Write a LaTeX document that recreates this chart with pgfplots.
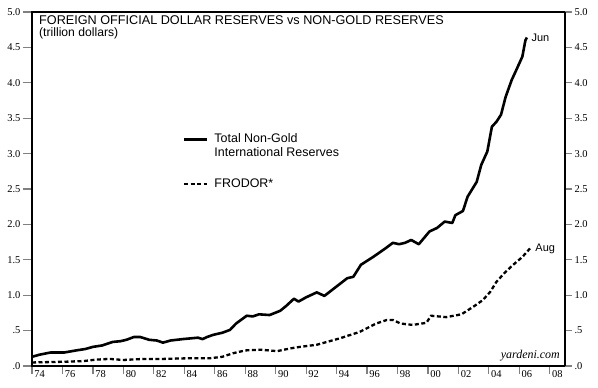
\documentclass[border=0pt]{standalone}
\usepackage{pgfplots}
\pgfplotsset{compat=1.18}
\usepackage{fontspec}
\setmainfont{Liberation Sans}
\newfontfamily\serifnum{Liberation Serif}

\pgfplotstableread{
x y
1974.0 0.13
1974.5 0.16
1975.2 0.19
1976.1 0.19
1976.9 0.22
1977.5 0.24
1978.0 0.27
1978.6 0.29
1979.3 0.34
1979.8 0.35
1980.2 0.37
1980.7 0.41
1981.1 0.41
1981.7 0.37
1982.2 0.36
1982.6 0.33
1983.1 0.36
1983.9 0.38
1984.4 0.39
1984.9 0.40
1985.2 0.38
1985.5 0.41
1985.9 0.44
1986.5 0.47
1987.0 0.51
1987.4 0.60
1988.1 0.71
1988.5 0.70
1988.9 0.73
1989.6 0.72
1990.3 0.78
1990.7 0.85
1991.2 0.95
1991.5 0.91
1992.0 0.97
1992.7 1.04
1993.2 0.99
1993.8 1.09
1994.7 1.24
1995.1 1.26
1995.6 1.43
1996.4 1.54
1997.2 1.66
1997.7 1.74
1998.1 1.72
1998.5 1.74
1998.9 1.78
1999.4 1.72
2000.1 1.90
2000.6 1.95
2001.1 2.04
2001.6 2.02
2001.8 2.13
2002.3 2.19
2002.6 2.39
2003.2 2.60
2003.5 2.84
2003.9 3.03
2004.2 3.38
2004.5 3.45
2004.8 3.55
2005.1 3.80
2005.5 4.04
2005.8 4.18
2006.2 4.37
2006.4 4.60
2006.5 4.64
}\totaldata

\pgfplotstableread{
x y
1974.0 0.05
1976.1 0.06
1977.4 0.07
1978.2 0.09
1979.1 0.10
1980.0 0.085
1981.3 0.10
1982.6 0.10
1984.4 0.11
1985.7 0.11
1986.5 0.13
1987.2 0.18
1988.0 0.22
1989.0 0.23
1990.1 0.21
1991.0 0.25
1991.6 0.27
1992.7 0.30
1994.2 0.39
1995.5 0.48
1996.6 0.60
1997.3 0.65
1997.7 0.65
1998.2 0.60
1999.0 0.58
1999.9 0.61
2000.2 0.71
2001.2 0.69
2002.2 0.73
2003.0 0.84
2003.6 0.93
2004.1 1.05
2004.5 1.19
2005.1 1.33
2005.6 1.43
2006.2 1.54
2006.7 1.66
}\frodordata

\begin{document}
\begin{tikzpicture}
\useasboundingbox (-32bp,-22bp) rectangle (566bp,366bp);
\begin{axis}[
  scale only axis, width=533bp, height=354bp,
  xmin=1974, xmax=2009, ymin=0, ymax=5,
  clip=false,
  axis line style={line width=1.8bp},
  tick align=outside,
  xtick={1974.5,1976.5,...,2008.5},
  xticklabels={74,76,78,80,82,84,86,88,90,92,94,96,98,00,02,04,06,08},
  major x tick style={draw=none},
  minor xtick={1974,1976,...,2008},
  minor tick length=8bp,
  minor x tick style={line width=1.2bp},
  xtick pos=left,
  ytick={0,0.5,1,1.5,2,2.5,3,3.5,4,4.5,5},
  yticklabels={.0,.5,1.0,1.5,2.0,2.5,3.0,3.5,4.0,4.5,5.0},
  ytick pos=left,
  major tick length=9bp,
  major y tick style={line width=1.2bp},
  ticklabel style={font=\serifnum\fontsize{10.5}{12}\selectfont},
  xticklabel style={yshift=8bp},
  yticklabel style={xshift=1bp},
  legend style={draw=none, fill=none, at={(axis cs:1983.7,3.35)}, anchor=north west,
    font=\fontsize{12.5}{14}\selectfont, cells={anchor=base west}},
  legend image code/.code={\draw[#1] (0bp,3.5bp) -- (23bp,3.5bp);},
]
\addplot[black, line width=2.6bp, line join=round] table[x=x,y=y]{\totaldata}
  node[pos=1, anchor=west, font=\fontsize{11}{12}\selectfont, xshift=0bp]{Jun};
\addlegendentry{\begin{tabular}[t]{@{\hspace{4bp}}l@{}}Total Non-Gold\\International Reserves\end{tabular}}
\addplot[black, line width=2.3bp, dash pattern=on 4bp off 2.5bp] table[x=x,y=y]{\frodordata}
  node[pos=1, anchor=west, font=\fontsize{11}{12}\selectfont, xshift=1bp]{Aug};
\addlegendentry{\hspace*{4bp}\rule{0pt}{39bp}FRODOR*}
\node[anchor=base west, inner sep=0pt, font=\fontsize{12.7}{13}\selectfont] at (rel axis cs:0,1) [xshift=7bp, yshift=-12.5bp] {FOREIGN OFFICIAL DOLLAR RESERVES vs NON-GOLD RESERVES};
\node[anchor=base west, inner sep=0pt, font=\fontsize{12.2}{13}\selectfont] at (rel axis cs:0,1) [xshift=7bp, yshift=-24.5bp] {(trillion dollars)};
\node[anchor=base east, inner sep=0pt, font=\serifnum\itshape\fontsize{12}{14}\selectfont] at (rel axis cs:1,0) [xshift=-5bp, yshift=8bp] {yardeni.com};
\end{axis}
\begin{axis}[
  scale only axis, width=533bp, height=354bp,
  xmin=1974, xmax=2009, ymin=0, ymax=5,
  axis x line=none, axis y line*=right,
  axis line style={line width=1.8bp},
  tick align=outside,
  ytick={0,0.5,1,1.5,2,2.5,3,3.5,4,4.5,5},
  yticklabels={.0,.5,1.0,1.5,2.0,2.5,3.0,3.5,4.0,4.5,5.0},
  major tick length=7bp,
  major y tick style={line width=1.2bp},
  ticklabel style={font=\serifnum\fontsize{10.5}{12}\selectfont},
  yticklabel style={anchor=west, xshift=-1bp},
]
\end{axis}
\end{tikzpicture}
\end{document}
